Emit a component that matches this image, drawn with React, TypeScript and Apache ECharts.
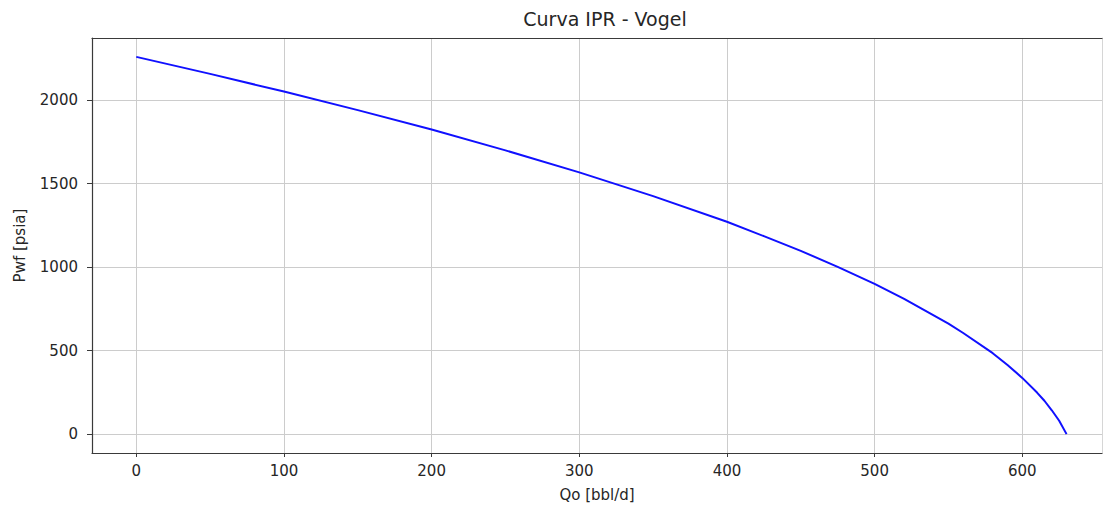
import React, { useEffect, useRef } from "react";
import * as echarts from "echarts";

// Vogel inflow performance curve: oil rate vs. flowing bottom-hole pressure
const qo = [0, 50, 100, 150, 200, 250, 300, 350, 400, 425, 450, 475, 500, 520, 550, 560, 580, 590, 600, 610, 615, 620, 625, 630];
const pwf = [2260, 2158, 2052, 1941, 1825, 1700, 1568, 1426, 1272, 1186, 1098, 1002, 900, 810, 662, 606, 485, 414, 337, 249, 200, 143, 80, 0];

const xTicks = [0, 100, 200, 300, 400, 500, 600];
const yTicks = [0, 500, 1000, 1500, 2000];

const titleText = "Curva IPR - Vogel";
const xName = "Qo [bbl/d]";
const yName = "Pwf [psia]";

const FONT = "DejaVu Sans";
const TEXT = "#262626";
const SPINE = "#3a3a3a";
const GRID = "#cccccc";

export default function App() {
  const ref = useRef<HTMLDivElement>(null);

  useEffect(() => {
    if (!ref.current) return;
    const chart = echarts.init(ref.current, undefined, { renderer: "svg" });
    const points = qo.map((q, i) => [q, pwf[i]]);

    const xRange = { min: -30, max: 654 };
    const yRange = { min: -113, max: 2373 };
    const plain = (v: number) => String(v);

    chart.setOption({
      animation: false,
      backgroundColor: "#ffffff",
      title: {
        text: titleText,
        left: 600,
        top: 4,
        textAlign: "center",
        textStyle: { fontFamily: FONT, fontSize: 19, fontWeight: "normal", color: TEXT },
      },
      grid: { left: 92, right: 7, top: 38, bottom: 54, containLabel: false },
      xAxis: [
        {
          type: "value",
          ...xRange,
          name: xName,
          nameLocation: "middle",
          nameGap: 34,
          nameTextStyle: { fontFamily: FONT, fontSize: 15, color: TEXT },
          axisLine: { show: true, onZero: false, lineStyle: { color: SPINE, width: 1.2 } },
          axisTick: { show: true, length: 4, lineStyle: { color: SPINE }, customValues: xTicks },
          axisLabel: { fontFamily: FONT, fontSize: 15, color: TEXT, margin: 10, customValues: xTicks, formatter: plain },
          splitLine: { show: true, lineStyle: { color: GRID, width: 1 } },
        },
        {
          type: "value",
          ...xRange,
          position: "top",
          axisLine: { show: true, onZero: false, lineStyle: { color: SPINE, width: 1.2 } },
          axisTick: { show: false },
          axisLabel: { show: false },
          splitLine: { show: false },
        },
      ],
      yAxis: [
        {
          type: "value",
          ...yRange,
          name: yName,
          nameLocation: "middle",
          nameGap: 65,
          nameTextStyle: { fontFamily: FONT, fontSize: 15, color: TEXT },
          axisLine: { show: true, onZero: false, lineStyle: { color: SPINE, width: 1.2 } },
          axisTick: { show: true, length: 5, lineStyle: { color: SPINE }, customValues: yTicks },
          axisLabel: { fontFamily: FONT, fontSize: 15, color: TEXT, margin: 14, customValues: yTicks, formatter: plain },
          splitLine: { show: true, lineStyle: { color: GRID, width: 1 } },
        },
        {
          type: "value",
          ...yRange,
          position: "right",
          axisLine: { show: true, onZero: false, lineStyle: { color: "#d6d6d6", width: 1 } },
          axisTick: { show: false },
          axisLabel: { show: false },
          splitLine: { show: false },
        },
      ],
      series: [
        {
          type: "line",
          data: points,
          xAxisIndex: 0,
          yAxisIndex: 0,
          showSymbol: false,
          smooth: false,
          lineStyle: { color: "#1010ff", width: 2 },
        },
      ],
    });

    return () => chart.dispose();
  }, []);

  return (
    <div
      ref={ref}
      style={{ position: "fixed", left: 0, top: 0, width: 1109, height: 507, background: "#fff" }}
    />
  );
}
